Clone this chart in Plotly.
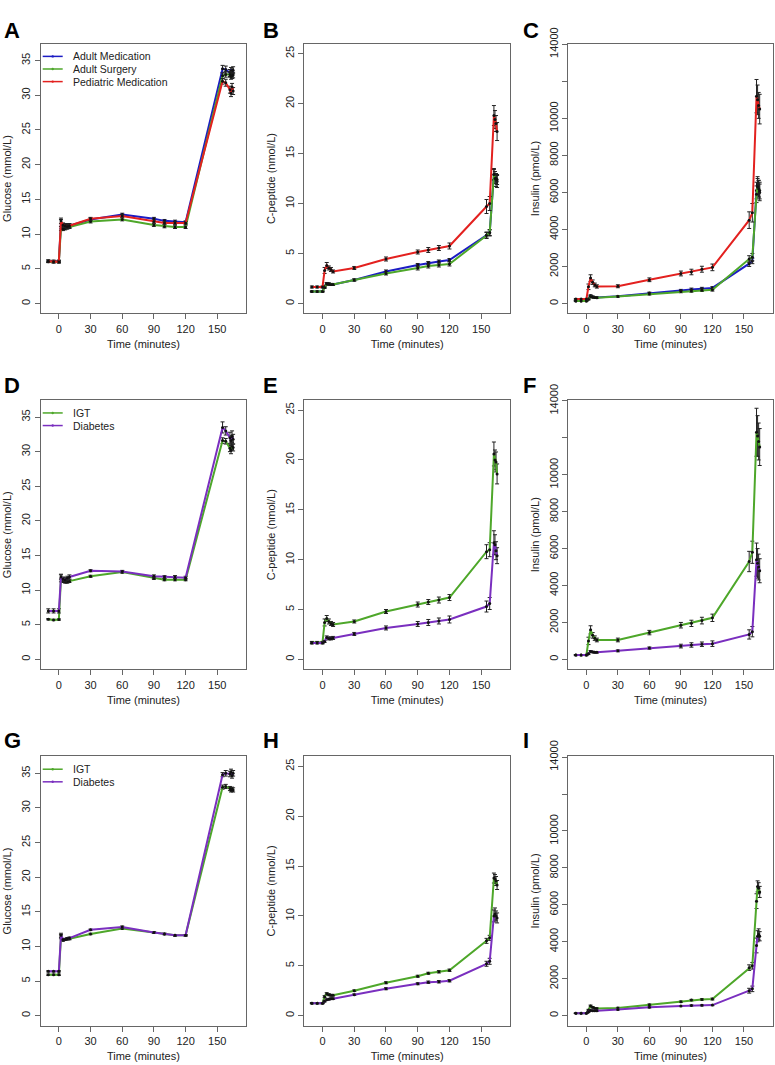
import plotly.graph_objects as go

# ---------------- data ----------------
TIME = [-10, -5, 0, 2, 4, 6, 8, 10, 30, 60, 90, 100, 110, 120, 155, 158, 162, 163, 164, 165]
X_TICKS = [0, 30, 60, 90, 120, 150]
GLU_TICKS = [0, 5, 10, 15, 20, 25, 30, 35]
CPEP_TICKS = [0, 5, 10, 15, 20, 25]
INS_TICKS = [0, 2000, 4000, 6000, 8000, 10000, 12000, 14000]
INS_TICKTEXT = ["0", "2000", "4000", "6000", "8000", "10000", "", "14000"]

NAMES_ABC = ["Adult Medication", "Adult Surgery", "Pediatric Medication"]
NAMES_DEF = ["IGT", "Diabetes"]
PANEL_LETTERS = ["A", "B", "C", "D", "E", "F", "G", "H", "I"]

# Panel A - glucose (mmol/L)
A_adult_med = [6.1, 6.1, 6.1, 11.6, 11.2, 11.1, 11.2, 11.2, 12.1, 12.8, 12.2, 11.9, 11.8, 11.7, 33.8, 33.7, 33.2, 33.5, 33.3, 33.6]
A_adult_med_se = [0.15, 0.15, 0.15, 0.5, 0.3, 0.3, 0.3, 0.3, 0.2, 0.2, 0.2, 0.2, 0.2, 0.2, 0.5, 0.5, 0.5, 0.5, 0.5, 0.5]
A_adult_surg = [6.0, 6.0, 6.0, 10.8, 10.7, 10.8, 10.9, 11.0, 11.8, 12.1, 11.3, 11.1, 11.0, 11.0, 32.8, 33.0, 33.0, 32.7, 32.8, 32.9]
A_adult_surg_se = [0.12, 0.12, 0.12, 0.3, 0.2, 0.2, 0.2, 0.2, 0.2, 0.2, 0.2, 0.2, 0.2, 0.2, 0.4, 0.4, 0.4, 0.4, 0.4, 0.4]
A_ped_med = [6.1, 6.0, 6.0, 11.9, 11.3, 11.2, 11.1, 11.2, 12.2, 12.6, 11.8, 11.6, 11.6, 11.6, 32.0, 31.8, 30.8, 30.3, 31.2, 30.6]
A_ped_med_se = [0.2, 0.2, 0.2, 0.4, 0.3, 0.3, 0.3, 0.3, 0.2, 0.2, 0.2, 0.2, 0.2, 0.2, 0.4, 0.5, 0.5, 0.5, 0.5, 0.5]

# Panel B - C-peptide (nmol/L)
B_adult_med = [1.2, 1.2, 1.2, 1.7, 2.0, 1.95, 1.9, 1.9, 2.35, 3.2, 3.85, 4.05, 4.2, 4.35, 6.85, 7.05, 12.9, 12.6, 12.3, 12.2]
B_adult_med_se = [0.05, 0.05, 0.05, 0.1, 0.1, 0.1, 0.1, 0.1, 0.1, 0.15, 0.15, 0.15, 0.15, 0.15, 0.3, 0.3, 0.6, 0.6, 0.6, 0.6]
B_adult_surg = [1.2, 1.2, 1.2, 1.6, 1.95, 1.95, 1.9, 1.9, 2.35, 3.0, 3.55, 3.75, 3.85, 3.95, 6.8, 7.1, 12.9, 12.5, 12.5, 12.4]
B_adult_surg_se = [0.05, 0.05, 0.05, 0.1, 0.1, 0.1, 0.1, 0.1, 0.1, 0.15, 0.2, 0.2, 0.2, 0.2, 0.3, 0.3, 0.5, 0.5, 0.5, 0.5]
B_ped_med = [1.65, 1.65, 1.65, 3.3, 3.8, 3.55, 3.4, 3.2, 3.55, 4.45, 5.15, 5.35, 5.55, 5.75, 9.7, 10.0, 18.8, 18.4, 18.0, 17.2]
B_ped_med_se = [0.1, 0.1, 0.1, 0.3, 0.3, 0.2, 0.2, 0.15, 0.15, 0.2, 0.2, 0.25, 0.25, 0.3, 0.7, 0.7, 1.0, 0.9, 0.8, 0.9]

# Panel C - insulin (pmol/L)
C_adult_med = [140, 140, 140, 250, 420, 360, 330, 320, 390, 560, 700, 760, 800, 840, 2150, 2300, 6100, 6400, 6200, 6000]
C_adult_med_se = [15, 15, 15, 40, 50, 40, 30, 30, 30, 50, 60, 70, 70, 70, 150, 150, 450, 450, 450, 450]
C_adult_surg = [140, 140, 140, 230, 380, 340, 320, 310, 380, 510, 640, 680, 720, 740, 2400, 2500, 5900, 6300, 6200, 6100]
C_adult_surg_se = [15, 15, 15, 40, 50, 40, 30, 30, 30, 50, 60, 70, 70, 70, 180, 200, 450, 450, 450, 450]
C_ped_med = [240, 240, 240, 900, 1370, 1150, 1000, 920, 930, 1280, 1620, 1700, 1850, 1950, 4500, 4900, 11200, 11000, 10700, 10500]
C_ped_med_se = [30, 30, 30, 150, 180, 120, 100, 90, 80, 100, 130, 150, 160, 180, 450, 500, 900, 800, 700, 800]

# Panel D - glucose
D_igt = [5.8, 5.7, 5.75, 11.7, 11.3, 11.2, 11.2, 11.3, 12.0, 12.6, 11.7, 11.5, 11.5, 11.5, 31.6, 31.5, 30.5, 30.2, 30.8, 30.6]
D_igt_se = [0.1, 0.1, 0.1, 0.5, 0.2, 0.2, 0.2, 0.2, 0.15, 0.15, 0.15, 0.15, 0.15, 0.15, 0.4, 0.4, 0.5, 0.5, 0.5, 0.5]
D_diab = [7.0, 7.0, 7.0, 11.9, 11.6, 11.5, 11.7, 11.9, 12.8, 12.7, 12.0, 11.9, 11.9, 11.8, 33.5, 33.0, 32.0, 31.6, 32.2, 31.8]
D_diab_se = [0.3, 0.3, 0.3, 0.4, 0.3, 0.3, 0.3, 0.3, 0.15, 0.15, 0.2, 0.2, 0.2, 0.2, 0.8, 0.6, 0.8, 0.7, 0.8, 0.7]

# Panel E - C-peptide
E_igt = [1.7, 1.7, 1.7, 3.7, 4.1, 3.8, 3.6, 3.5, 3.8, 4.8, 5.5, 5.75, 5.95, 6.2, 10.8, 11.0, 20.6, 20.0, 19.8, 18.6]
E_igt_se = [0.1, 0.1, 0.1, 0.35, 0.3, 0.25, 0.2, 0.2, 0.15, 0.2, 0.25, 0.25, 0.3, 0.3, 0.7, 0.7, 1.2, 1.0, 1.0, 1.0]
E_diab = [1.65, 1.65, 1.65, 1.8, 2.2, 2.1, 2.1, 2.15, 2.55, 3.15, 3.55, 3.7, 3.85, 4.0, 5.3, 5.6, 11.7, 11.5, 10.9, 10.4]
E_diab_se = [0.1, 0.1, 0.1, 0.1, 0.15, 0.15, 0.15, 0.15, 0.15, 0.2, 0.25, 0.3, 0.3, 0.35, 0.55, 0.6, 1.2, 1.0, 0.9, 0.8]

# Panel F - insulin
F_igt = [230, 230, 230, 1000, 1600, 1300, 1150, 1050, 1050, 1450, 1850, 1950, 2100, 2250, 5300, 5800, 12300, 12100, 11800, 11500]
F_igt_se = [30, 30, 30, 200, 220, 150, 120, 100, 100, 120, 150, 170, 180, 200, 550, 600, 1300, 1100, 1000, 1000]
F_diab = [240, 240, 240, 300, 430, 400, 380, 380, 460, 610, 720, 780, 820, 850, 1350, 1500, 5400, 5200, 5000, 4800]
F_diab_se = [20, 20, 20, 40, 50, 40, 40, 40, 50, 60, 100, 120, 120, 150, 250, 280, 900, 800, 700, 650]

# Panel G - glucose
G_igt = [5.9, 5.9, 5.9, 11.4, 10.9, 11.0, 11.1, 11.1, 11.8, 12.6, 12.0, 11.8, 11.6, 11.6, 33.0, 33.1, 32.8, 32.6, 32.7, 32.6]
G_igt_se = [0.1, 0.1, 0.1, 0.3, 0.15, 0.15, 0.15, 0.15, 0.1, 0.15, 0.1, 0.1, 0.1, 0.1, 0.3, 0.3, 0.3, 0.3, 0.3, 0.3]
G_diab = [6.4, 6.4, 6.4, 11.6, 11.0, 11.0, 11.1, 11.2, 12.4, 12.8, 12.0, 11.8, 11.6, 11.6, 34.8, 35.0, 34.9, 35.2, 34.7, 35.0]
G_diab_se = [0.1, 0.1, 0.1, 0.3, 0.15, 0.15, 0.15, 0.15, 0.1, 0.15, 0.1, 0.1, 0.1, 0.1, 0.3, 0.4, 0.4, 0.4, 0.4, 0.4]

# Panel H - C-peptide
H_igt = [1.25, 1.25, 1.25, 1.9, 2.2, 2.1, 2.05, 2.05, 2.5, 3.3, 3.95, 4.25, 4.4, 4.55, 7.5, 7.8, 13.8, 13.7, 13.5, 13.1]
H_igt_se = [0.05, 0.05, 0.05, 0.1, 0.1, 0.1, 0.08, 0.08, 0.08, 0.1, 0.1, 0.1, 0.12, 0.12, 0.25, 0.25, 0.5, 0.45, 0.45, 0.45]
H_diab = [1.25, 1.25, 1.25, 1.45, 1.6, 1.65, 1.7, 1.7, 2.1, 2.7, 3.2, 3.35, 3.4, 3.5, 5.2, 5.45, 10.0, 10.2, 10.0, 9.8]
H_diab_se = [0.05, 0.05, 0.05, 0.08, 0.08, 0.08, 0.08, 0.08, 0.08, 0.1, 0.1, 0.12, 0.12, 0.12, 0.25, 0.3, 0.6, 0.6, 0.5, 0.5]

# Panel I - insulin
I_igt = [130, 130, 130, 300, 520, 450, 400, 390, 420, 590, 750, 840, 880, 900, 2600, 2700, 6200, 7000, 6900, 6700]
I_igt_se = [10, 10, 10, 40, 50, 40, 30, 30, 30, 40, 40, 40, 40, 50, 150, 180, 400, 300, 300, 300]
I_diab = [130, 130, 130, 200, 280, 270, 260, 260, 330, 450, 520, 550, 560, 570, 1350, 1450, 3800, 4300, 4400, 4300]
I_diab_se = [10, 10, 10, 20, 30, 30, 25, 25, 25, 30, 30, 30, 30, 30, 130, 150, 400, 300, 300, 250]

# ---------------- styling ----------------
BLUE = "#1c1cc4"
GREEN = "#4ea72a"
RED = "#e3211f"
PURPLE = "#7a2fbf"
FRAME = "#666666"
TXT = "#222222"
FONT = "Liberation Sans, Arial, sans-serif"

W, H = 775, 1065
COL_X = [(40.7, 246.0), (304.3, 510.0), (568.3, 772.5)]
ROW_Y = [(28.0, 302.0), (390.0, 663.3), (751.7, 1025.0)]

X_RANGE = [-17.2, 177.2]
GLU_RANGE = [-1.44, 37.44]
CPEP_RANGE = [-1.0, 26.0]
INS_RANGE = [-540, 14040]

panels = [
    ([(NAMES_ABC[0], A_adult_med, A_adult_med_se, BLUE),
      (NAMES_ABC[1], A_adult_surg, A_adult_surg_se, GREEN),
      (NAMES_ABC[2], A_ped_med, A_ped_med_se, RED)], "glu"),
    ([(NAMES_ABC[0], B_adult_med, B_adult_med_se, BLUE),
      (NAMES_ABC[1], B_adult_surg, B_adult_surg_se, GREEN),
      (NAMES_ABC[2], B_ped_med, B_ped_med_se, RED)], "cpep"),
    ([(NAMES_ABC[0], C_adult_med, C_adult_med_se, BLUE),
      (NAMES_ABC[1], C_adult_surg, C_adult_surg_se, GREEN),
      (NAMES_ABC[2], C_ped_med, C_ped_med_se, RED)], "ins"),
    ([(NAMES_DEF[0], D_igt, D_igt_se, GREEN),
      (NAMES_DEF[1], D_diab, D_diab_se, PURPLE)], "glu"),
    ([(NAMES_DEF[0], E_igt, E_igt_se, GREEN),
      (NAMES_DEF[1], E_diab, E_diab_se, PURPLE)], "cpep"),
    ([(NAMES_DEF[0], F_igt, F_igt_se, GREEN),
      (NAMES_DEF[1], F_diab, F_diab_se, PURPLE)], "ins"),
    ([(NAMES_DEF[0], G_igt, G_igt_se, GREEN),
      (NAMES_DEF[1], G_diab, G_diab_se, PURPLE)], "glu"),
    ([(NAMES_DEF[0], H_igt, H_igt_se, GREEN),
      (NAMES_DEF[1], H_diab, H_diab_se, PURPLE)], "cpep"),
    ([(NAMES_DEF[0], I_igt, I_igt_se, GREEN),
      (NAMES_DEF[1], I_diab, I_diab_se, PURPLE)], "ins"),
]

YCFG = {
    "glu": dict(title="Glucose (mmol/L)", range=GLU_RANGE, tickvals=GLU_TICKS,
                ticktext=[str(v) for v in GLU_TICKS]),
    "cpep": dict(title="C-peptide (nmol/L)", range=CPEP_RANGE, tickvals=CPEP_TICKS,
                 ticktext=[str(v) for v in CPEP_TICKS]),
    "ins": dict(title="Insulin (pmol/L)", range=INS_RANGE, tickvals=INS_TICKS,
                ticktext=INS_TICKTEXT),
}

fig = go.Figure()
layout = dict(
    width=W, height=H, margin=dict(l=0, r=0, t=0, b=0),
    paper_bgcolor="white", plot_bgcolor="white", showlegend=False,
    font=dict(family=FONT, size=11, color=TXT),
)
annotations = []
shapes = []

for i, (series, kind) in enumerate(panels):
    r, c = divmod(i, 3)
    idx = "" if i == 0 else str(i + 1)
    xa, ya = "x" + idx, "y" + idx
    x0, x1 = COL_X[c]
    yt, yb = ROW_Y[r]
    cfg = YCFG[kind]
    layout["xaxis" + idx] = dict(
        domain=[x0 / W, x1 / W], anchor=ya, range=X_RANGE,
        tickmode="array", tickvals=X_TICKS, ticks="outside", ticklen=5,
        tickcolor=FRAME, showline=True, linecolor=FRAME, linewidth=1, mirror=True,
        showgrid=False, zeroline=False, tickfont=dict(size=11, color=TXT),
        title=dict(text="Time (minutes)", font=dict(size=11, color=TXT), standoff=6),
    )
    layout["yaxis" + idx] = dict(
        domain=[1 - yb / H, 1 - yt / H], anchor=xa, range=cfg["range"],
        tickmode="array", tickvals=cfg["tickvals"], ticktext=cfg["ticktext"],
        tickangle=-90, ticks="outside", ticklen=5, tickcolor=FRAME,
        showline=True, linecolor=FRAME, linewidth=1, mirror=True,
        showgrid=False, zeroline=False, tickfont=dict(size=11, color=TXT),
        title=dict(text=cfg["title"], font=dict(size=11, color=TXT), standoff=6),
    )
    for name, vals, se, color in series:
        fig.add_trace(go.Scatter(
            x=TIME, y=vals, mode="lines+markers", name=name,
            line=dict(color=color, width=2),
            marker=dict(color="#111111", size=3),
            error_y=dict(type="data", array=se, visible=True, color="#222222",
                         thickness=1, width=2),
            xaxis=xa, yaxis=ya,
        ))
    annotations.append(dict(
        text="<b>%s</b>" % PANEL_LETTERS[i], xref="paper", yref="paper",
        x=[1.5, 260.5, 520.5][c] / W, y=1 - [14.5, 375.0, 736.0][r] / H,
        xanchor="left", yanchor="middle", showarrow=False,
        font=dict(family=FONT, size=22, color="black"),
    ))
    if c == 0:
        ph = yb - yt
        pw = x1 - x0
        for k, (name, vals, se, color) in enumerate(series):
            yy = 1 - (13.0 + k * 12.8) / ph
            shapes.append(dict(type="line", xref=xa + " domain", yref=ya + " domain",
                               x0=2.0 / pw, x1=22.0 / pw, y0=yy, y1=yy,
                               line=dict(color=color, width=1.5)))
            shapes.append(dict(type="circle", xref=xa + " domain", yref=ya + " domain",
                               xsizemode="pixel", ysizemode="pixel",
                               xanchor=12.0 / pw, yanchor=yy,
                               x0=-1.2, x1=1.2, y0=-1.2, y1=1.2,
                               fillcolor=color, line=dict(width=0)))
            annotations.append(dict(
                text=name, xref=xa + " domain", yref=ya + " domain",
                x=30.0 / pw, y=yy, xanchor="left", yanchor="middle",
                showarrow=False, font=dict(family=FONT, size=10.5, color=TXT),
            ))

layout["annotations"] = annotations
layout["shapes"] = shapes
fig.update_layout(**layout)
fig.write_html(
    "out.html",
    config={"displayModeBar": False},
    post_script="document.body.style.margin='0px';document.body.style.overflow='hidden';",
)
